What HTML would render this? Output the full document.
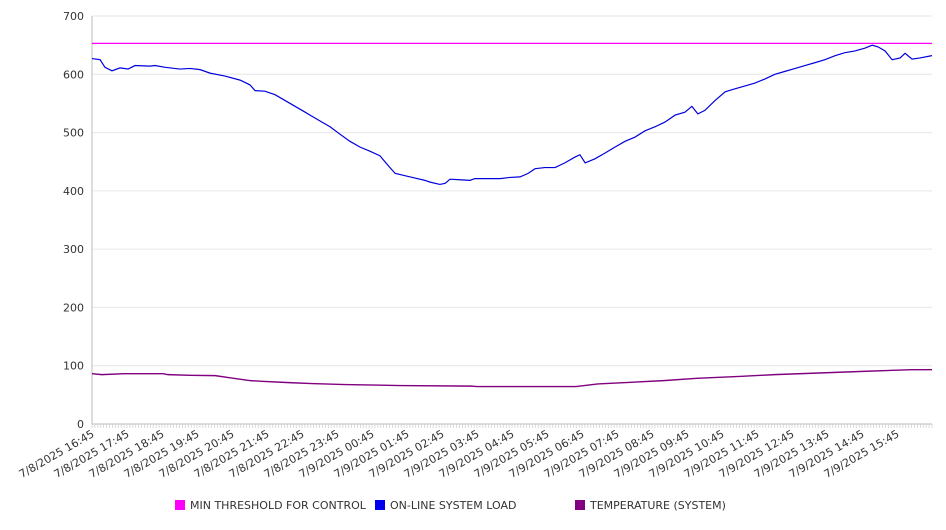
<!DOCTYPE html>
<html><head><meta charset="utf-8"><style>
body{margin:0;background:#fff;font-family:"DejaVu Sans","Liberation Sans",sans-serif;}
svg text{font-family:"DejaVu Sans","Liberation Sans",sans-serif;font-size:11px;fill:#333;}
</style></head><body>
<svg id="chart" width="946" height="526" xmlns="http://www.w3.org/2000/svg">
<g id="grid"></g>
<g id="yaxis"></g>
<g id="xaxis"></g>
<g id="series"></g>
<g id="legend">
<rect x="175" y="500" width="10" height="10" fill="#ff00ff"/>
<text x="190" y="509">MIN THRESHOLD FOR CONTROL</text>
<rect x="375" y="500" width="10" height="10" fill="#0000ee"/>
<text x="390" y="509">ON-LINE SYSTEM LOAD</text>
<rect x="575" y="500" width="10" height="10" fill="#800080"/>
<text x="590" y="509">TEMPERATURE (SYSTEM)</text>
</g>
</svg>
<script>
const yTicks=[0,100,200,300,400,500,600,700];
const xLabels=["7/8/2025 16:45","7/8/2025 17:45","7/8/2025 18:45","7/8/2025 19:45","7/8/2025 20:45","7/8/2025 21:45","7/8/2025 22:45","7/8/2025 23:45","7/9/2025 00:45","7/9/2025 01:45","7/9/2025 02:45","7/9/2025 03:45","7/9/2025 04:45","7/9/2025 05:45","7/9/2025 06:45","7/9/2025 07:45","7/9/2025 08:45","7/9/2025 09:45","7/9/2025 10:45","7/9/2025 11:45","7/9/2025 12:45","7/9/2025 13:45","7/9/2025 14:45","7/9/2025 15:45"];
const thresholdValue=653;
const loadHours=[0,.23,.37,.57,.8,1.03,1.23,1.66,1.8,2.09,2.51,2.8,3.09,3.37,3.8,4.23,4.51,4.66,4.94,5.23,5.66,6.09,6.23,6.51,6.8,7.09,7.37,7.66,7.94,8.23,8.37,8.51,8.66,8.94,9.23,9.51,9.66,9.94,10.09,10.23,10.51,10.8,10.94,11.37,11.66,11.94,12.23,12.46,12.66,12.94,13.23,13.51,13.8,13.94,14.09,14.37,14.66,14.94,15.23,15.51,15.8,16.09,16.37,16.66,16.94,17.14,17.31,17.51,17.8,18.09,18.37,18.66,18.94,19.23,19.51,19.8,20.09,20.37,20.66,20.94,21.23,21.51,21.8,22.09,22.29,22.46,22.66,22.86,23.09,23.23,23.43,23.66,24];
const loadValues=[627,625,612,606,611,609,615,614,615,612,609,610,608,602,597,590,582,572,571,565,550,535,530,520,510,497,485,475,468,460,450,440,430,426,422,418,415,411,413,420,419,418,421,421,421,423,424,430,438,440,440,448,458,462,448,455,465,475,485,492,503,510,518,530,535,545,532,538,555,570,575,580,585,592,600,605,610,615,620,625,632,637,640,645,650,647,640,625,628,636,626,628,632];
const tempHours=[0,.28,.92,2.03,2.17,2.8,3.52,3.92,4.53,4.85,5.63,6.28,7.23,8.8,10.83,11,13.83,14.45,15.4,16.33,17.28,18.57,19.5,20.77,22.03,23.43,24];
const tempValues=[86.4,84.7,86.4,86.4,84.7,83.5,83,79.5,74.4,73.3,71,69.3,67.6,66,65,64.2,64.2,68.8,71.6,74.4,78.4,81.8,84.7,87.5,90.3,93.2,93.2];
const X0=92,X1=932,Y0=424,Y1=16,SPAN=24,YMAX=700;
const xs=h=>X0+h/SPAN*(X1-X0);
const ys=v=>Y0-v/YMAX*(Y0-Y1);
const NS="http://www.w3.org/2000/svg";
function mk(tag,attrs,parent){const e=document.createElementNS(NS,tag);for(const k in attrs)e.setAttribute(k,attrs[k]);parent.appendChild(e);return e;}
const grid=document.getElementById('grid'),yaxis=document.getElementById('yaxis'),xaxis=document.getElementById('xaxis'),series=document.getElementById('series');
yTicks.forEach(v=>{
 const l=mk('line',{x1:X0,x2:X1,y1:ys(v),y2:ys(v),stroke:v===0?'#bbb':'#e6e6e6'},grid);
 
 
 const t=mk('text',{x:84,y:ys(v)+4,'text-anchor':'end'},yaxis);t.textContent=v;
 
 
});
const ax=mk('line',{x1:X0,x2:X0,y1:Y1,y2:Y0,stroke:'#bbb'},yaxis);


for(let i=0;i<=288;i++){const x=X0+i*(X1-X0)/288;mk('line',{x1:x,x2:x,y1:Y0,y2:Y0+4,stroke:'#ccc','stroke-width':0.7},xaxis);}
xLabels.forEach((s,i)=>{
 const x=xs(i),y=Y0+12;
 const t=mk('text',{x:x+3,y:y,'text-anchor':'end',transform:`rotate(-30 ${x+3} ${y})`},xaxis);t.textContent=s;
 
 
});
const th=mk('line',{x1:X0,x2:X1,y1:ys(thresholdValue),y2:ys(thresholdValue),stroke:'#ff00ff','stroke-width':1.2},series);


const lp=mk('polyline',{points:loadHours.map((h,i)=>xs(h)+','+ys(loadValues[i])).join(' '),fill:'none',stroke:'#0000dd','stroke-width':1.2},series);


const tp=mk('polyline',{points:tempHours.map((h,i)=>xs(h)+','+ys(tempValues[i])).join(' '),fill:'none',stroke:'#800080','stroke-width':1.4},series);


</script>
</body></html>
